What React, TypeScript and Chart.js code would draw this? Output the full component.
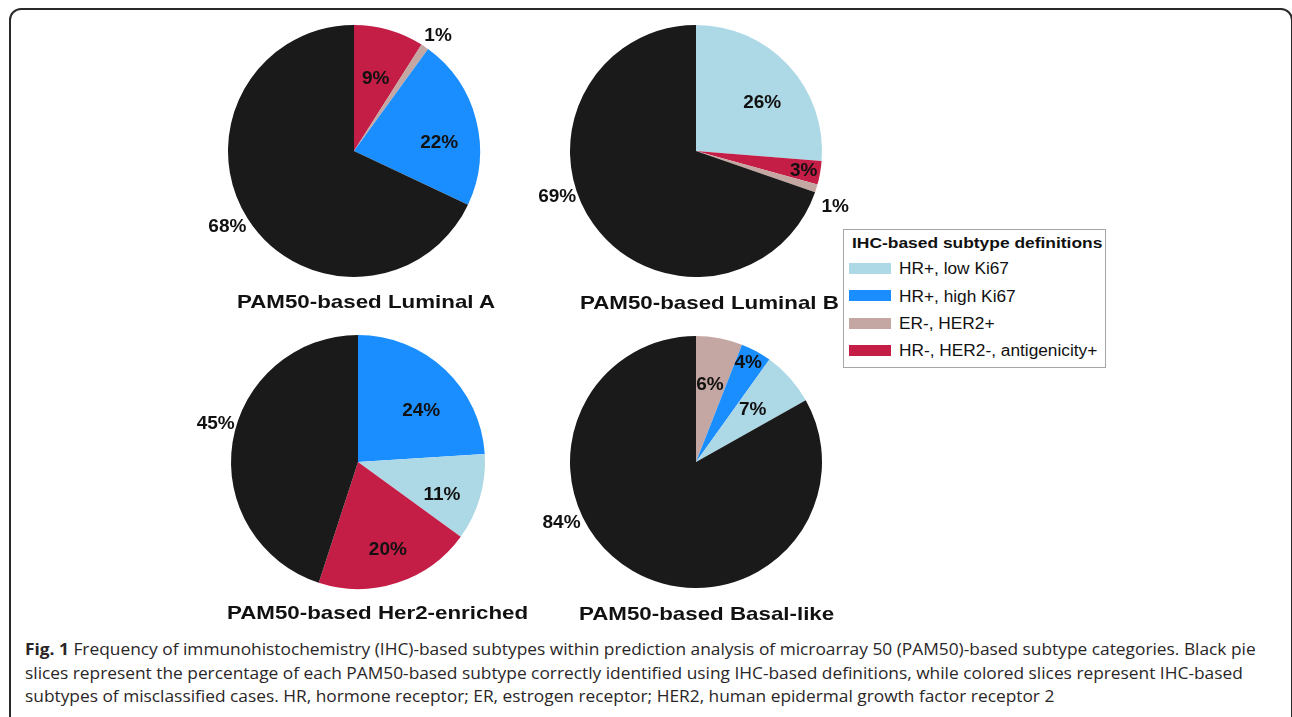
import React, { useEffect, useLayoutEffect, useRef, useState } from 'react';
import { Chart, registerables } from 'chart.js';

Chart.register(...registerables);

// ---------- categories ----------
const CAT_LOW = 'HR+, low Ki67';
const CAT_HIGH = 'HR+, high Ki67';
const CAT_ERHER2 = 'ER-, HER2+';
const CAT_TN = 'HR-, HER2-, antigenicity+';
const CAT_OK = 'Correctly identified (PAM50 = IHC)';

const legendTitle = 'IHC-based subtype definitions';
const legendCategories = [CAT_LOW, CAT_HIGH, CAT_ERHER2, CAT_TN];

// ---------- data (clockwise from 12 o'clock) ----------
const lumALabels = [CAT_TN, CAT_ERHER2, CAT_HIGH, CAT_OK];
const lumAValues = [9, 1, 22, 68];

const lumBLabels = [CAT_LOW, CAT_TN, CAT_ERHER2, CAT_OK];
const lumBValues = [26, 3, 1, 69];

const her2Labels = [CAT_HIGH, CAT_LOW, CAT_TN, CAT_OK];
const her2Values = [24, 11, 20, 45];

const basalLabels = [CAT_ERHER2, CAT_HIGH, CAT_LOW, CAT_OK];
const basalValues = [6, 4, 7, 84];

const pieTitles = [
  'PAM50-based Luminal A',
  'PAM50-based Luminal B',
  'PAM50-based Her2-enriched',
  'PAM50-based Basal-like',
];

const captionBold = 'Fig. 1';
const captionLines = [
  ' Frequency of immunohistochemistry (IHC)-based subtypes within prediction analysis of microarray 50 (PAM50)-based subtype categories. Black pie',
  'slices represent the percentage of each PAM50-based subtype correctly identified using IHC-based definitions, while colored slices represent IHC-based',
  'subtypes of misclassified cases. HR, hormone receptor; ER, estrogen receptor; HER2, human epidermal growth factor receptor 2',
];

// ---------- styles ----------
const COLORS: Record<string, string> = {
  [CAT_LOW]: '#add8e6',
  [CAT_HIGH]: '#1a8dff',
  [CAT_ERHER2]: '#c4a7a2',
  [CAT_TN]: '#c41e47',
  [CAT_OK]: '#1a1a1a',
};

const CANVAS = 340;

type PieCfg = {
  labels: string[];
  values: number[];
  title: string;
  cx: number;
  cy: number;
  r: number;
  titleX: number;
  titleBase: number;
  labelPos: [number, number][]; // [radius factor, angle offset deg]
};

const PIES: PieCfg[] = [
  {
    labels: lumALabels, values: lumAValues, title: pieTitles[0],
    cx: 354, cy: 151, r: 126, titleX: 237, titleBase: 308,
    labelPos: [[0.6, 0.5], [1.13, 2], [0.68, 8.6], [1.17, 1.6]],
  },
  {
    labels: lumBLabels, values: lumBValues, title: pieTitles[1],
    cx: 696, cy: 151, r: 126, titleX: 580, titleBase: 309,
    labelPos: [[0.65, 6.7], [0.87, 0.5], [1.19, 4.6], [1.16, 17.2]],
  },
  {
    labels: her2Labels, values: her2Values, title: pieTitles[2],
    cx: 358, cy: 462, r: 127, titleX: 227, titleBase: 619,
    labelPos: [[0.64, 7.8], [0.71, 5.2], [0.73, -0.8], [1.16, 6]],
  },
  {
    labels: basalLabels, values: basalValues, title: pieTitles[3],
    cx: 696, cy: 462, r: 126, titleX: 579, titleBase: 620,
    labelPos: [[0.62, -0.4], [0.89, -0.8], [0.61, -0.5], [1.17, 35.5]],
  },
];

const SANS = '"Liberation Sans", Arial, Helvetica, sans-serif';

function PieChart({ cfg }: { cfg: PieCfg }) {
  const ref = useRef<HTMLCanvasElement | null>(null);
  useEffect(() => {
    if (!ref.current) return;
    const labelPlugin = {
      id: 'sliceLabels',
      afterDatasetsDraw(chart: any) {
        const { ctx } = chart;
        const meta = chart.getDatasetMeta(0);
        const data = chart.data.datasets[0].data as number[];
        ctx.save();
        ctx.font = `bold 19px ${SANS}`;
        ctx.fillStyle = '#111111';
        ctx.textAlign = 'center';
        ctx.textBaseline = 'middle';
        meta.data.forEach((arc: any, i: number) => {
          const p = arc.getProps(['x', 'y', 'startAngle', 'endAngle', 'outerRadius'], true);
          const [f, off] = cfg.labelPos[i];
          const mid = (p.startAngle + p.endAngle) / 2 + (off * Math.PI) / 180;
          const d = p.outerRadius * f;
          ctx.fillText(`${data[i]}%`, p.x + Math.cos(mid) * d, p.y + Math.sin(mid) * d);
        });
        ctx.restore();
      },
    };
    const pad = (CANVAS - 2 * cfg.r) / 2;
    const chart = new Chart(ref.current, {
      type: 'pie',
      data: {
        labels: cfg.labels,
        datasets: [
          {
            data: cfg.values,
            backgroundColor: cfg.labels.map((l) => COLORS[l]),
            borderWidth: 0,
          },
        ],
      },
      options: {
        animation: false,
        responsive: false,
        devicePixelRatio: 1,
        layout: { padding: pad },
        plugins: {
          legend: { display: false },
          tooltip: { enabled: false },
          title: { display: false },
        },
      },
      plugins: [labelPlugin],
    });
    return () => chart.destroy();
  }, [cfg]);
  return (
    <canvas
      ref={ref}
      width={CANVAS}
      height={CANVAS}
      style={{
        position: 'absolute',
        left: cfg.cx - CANVAS / 2,
        top: cfg.cy - CANVAS / 2,
        width: CANVAS,
        height: CANVAS,
      }}
    />
  );
}

// top of a line box (line-height = font size) from a baseline
const topFromBase = (base: number, fs: number) => base - fs * 0.8465; // Liberation Sans
const topFromBaseOpen = (base: number, fs: number) => base - fs * 0.888; // Open Sans

function Caption() {
  const refs = useRef<(HTMLSpanElement | null)[]>([]);
  const [scale, setScale] = useState(1);
  useLayoutEffect(() => {
    const compute = () => {
      const el = refs.current[1];
      if (el) {
        const w = el.offsetWidth;
        if (w > 0) setScale(1218 / w);
      }
    };
    compute();
    (document as any).fonts?.ready?.then(compute);
  }, []);
  const fs = 16;
  const bases = [655, 679, 702];
  return (
    <>
      {captionLines.map((line, i) => (
        <span
          key={i}
          ref={(e) => {
            refs.current[i] = e;
          }}
          style={{
            position: 'absolute',
            left: 25,
            top: topFromBaseOpen(bases[i], fs),
            fontFamily: '"Open Sans", "Noto Sans", sans-serif',
            fontSize: fs,
            lineHeight: `${fs}px`,
            whiteSpace: 'nowrap',
            color: '#2a2627',
            transform: `scaleX(${scale})`,
            transformOrigin: 'left top',
          }}
        >
          {i === 0 && <b style={{ fontWeight: 700 }}>{captionBold}</b>}
          {line}
        </span>
      ))}
    </>
  );
}

function Legend() {
  const left = 843;
  const top = 229;
  const inner = { x: left + 1, y: top + 1 };
  return (
    <div
      style={{
        position: 'absolute',
        left,
        top,
        width: 1106 - left,
        height: 368 - top,
        boxSizing: 'border-box',
        border: '1px solid #a6a6a6',
        background: '#ffffff',
        fontFamily: SANS,
      }}
    >
      <div
        style={{
          position: 'absolute',
          left: 852 - inner.x,
          top: topFromBase(248, 15) - inner.y,
          fontSize: 15,
          lineHeight: '15px',
          fontWeight: 700,
          whiteSpace: 'nowrap',
          color: '#111',
          transform: 'scaleX(1.16)',
          transformOrigin: 'left top',
        }}
      >
        {legendTitle}
      </div>
      {legendCategories.map((cat, i) => {
        const base = 275 + i * 27.33;
        return (
          <React.Fragment key={cat}>
            <div
              style={{
                position: 'absolute',
                left: 849 - inner.x,
                top: base - 12 - inner.y,
                width: 42,
                height: 11,
                background: COLORS[cat],
              }}
            />
            <div
              style={{
                position: 'absolute',
                left: 899 - inner.x,
                top: topFromBase(base, 16) - inner.y,
                fontSize: 16,
                lineHeight: '16px',
                whiteSpace: 'nowrap',
                color: '#111',
                transform: 'scaleX(1.08)',
                transformOrigin: 'left top',
              }}
            >
              {cat}
            </div>
          </React.Fragment>
        );
      })}
    </div>
  );
}

export default function App() {
  return (
    <div
      style={{
        position: 'fixed',
        left: 0,
        top: 0,
        width: 1292,
        height: 717,
        overflow: 'hidden',
        background: '#ffffff',
      }}
    >
      <div
        style={{
          position: 'absolute',
          left: 9,
          top: 8,
          width: 1284,
          height: 730,
          boxSizing: 'border-box',
          border: '2px solid #2a2a2a',
          borderRadius: 12,
        }}
      />
      {PIES.map((p) => (
        <PieChart key={p.title} cfg={p} />
      ))}
      {PIES.map((p) => (
        <div
          key={'t' + p.title}
          style={{
            position: 'absolute',
            left: p.titleX,
            top: topFromBase(p.titleBase, 19),
            fontFamily: SANS,
            fontSize: 19,
            lineHeight: '19px',
            fontWeight: 700,
            whiteSpace: 'nowrap',
            color: '#111',
            transform: 'scaleX(1.175)',
            transformOrigin: 'left top',
          }}
        >
          {p.title}
        </div>
      ))}
      <Legend />
      <Caption />
    </div>
  );
}
